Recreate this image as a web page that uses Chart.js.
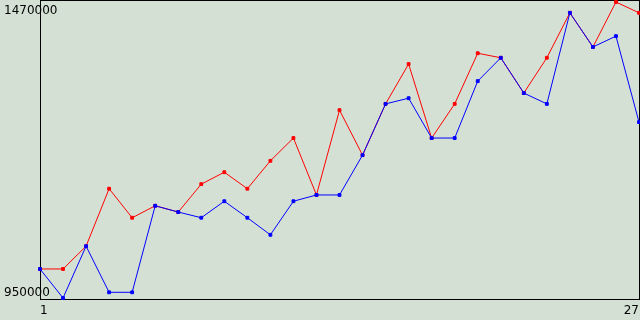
<!DOCTYPE html>
<html>
<head>
<meta charset="utf-8">
<script src="https://cdn.jsdelivr.net/npm/chart.js@4"></script>
<style>
  html, body { margin: 0; padding: 0; background: #d4e0d4; }
  #wrap { width: 640px; height: 320px; }
</style>
</head>
<body>
<div id="wrap"><canvas id="chart" width="640" height="320"></canvas></div>
<script>
const categories = ['1', '2', '3', '4', '5', '6', '7', '8', '9', '10', '11', '12', '13', '14',
  '15', '16', '17', '18', '19', '20', '21', '22', '23', '24', '25', '26', '27']

const blueValues = [1001000, 950000, 1041000, 960000, 960000, 1112000, 1101000, 1091000, 1120000,
  1091000, 1061000, 1120000, 1131000, 1131000, 1201000, 1291000, 1301000, 1231000, 1231000,
  1331000, 1372000, 1310000, 1291000, 1451000, 1391000, 1410000, 1259000]

const redValues = [1001000, 1001000, 1041000, 1142000, 1091000, 1112000, 1101000, 1150000, 1171000,
  1142000, 1191000, 1231000, 1131000, 1280000, 1201000, 1291000, 1361000, 1231000, 1291000,
  1380000, 1372000, 1310000, 1372000, 1451000, 1391000, 1470000, 1451000]

const yTicks = [950000, 1470000]
const xTickLabels = ['1', '27']

// thin black box round the plot area (top and right sides)
const frame = {
  id: 'frame',
  beforeDatasetsDraw(chart) {
    const a = chart.chartArea
    const ctx = chart.ctx
    ctx.save()
    ctx.strokeStyle = '#000'
    ctx.lineWidth = 1
    ctx.strokeRect(a.left + 0.5, a.top + 0.5, a.right - a.left, a.bottom - a.top)
    ctx.restore()
  }
}

const chart = new Chart(document.getElementById('chart').getContext('2d'), {
  type: 'line',
  data: {
    labels: categories,
    datasets: [
      {
        label: 'blue',
        data: blueValues,
        borderColor: '#0000ff',
        backgroundColor: '#0000ff',
        borderWidth: 1,
        pointStyle: 'rect',
        pointRadius: 2,
        pointBorderWidth: 1,
        tension: 0,
        clip: false
      },
      {
        label: 'red',
        data: redValues,
        borderColor: '#ff0000',
        backgroundColor: '#ff0000',
        borderWidth: 1,
        pointStyle: 'rect',
        pointRadius: 2,
        pointBorderWidth: 1,
        tension: 0,
        clip: false
      }
    ]
  },
  options: {
    responsive: false,
    animation: false,
    layout: { autoPadding: false, padding: { left: 0, right: 1, top: 0, bottom: 0 } },
    plugins: {
      legend: { display: false },
      tooltip: { enabled: false }
    },
    scales: {
      x: {
        grid: { display: false, drawTicks: false },
        border: { display: true, color: '#000', width: 1 },
        ticks: {
          autoSkip: false,
          maxRotation: 0,
          align: 'inner',
          padding: 5,
          color: '#000',
          font: { family: 'DejaVu Sans', size: 12 },
          callback: function (value, index) {
            const label = this.getLabelForValue(value)
            return xTickLabels.includes(label) ? label : ''
          }
        },
        afterFit: (scale) => {
          scale.height = 21
          scale.paddingLeft = 0
          scale.paddingRight = 0
        }
      },
      y: {
        min: 948243,
        max: 1473514,
        grid: { display: false, drawTicks: false },
        border: { display: true, color: '#000', width: 1 },
        afterBuildTicks: (scale) => {
          scale.ticks = yTicks.map((v) => ({ value: v }))
        },
        ticks: {
          mirror: true,
          crossAlign: 'near',
          padding: -36,
          labelOffset: 2,
          color: '#000',
          font: { family: 'DejaVu Sans', size: 12, lineHeight: 1.2 },
          // push the top label down and the bottom label up, inside the plot
          callback: (value) => value === yTicks[1] ? ['', String(value)] : [String(value), '']
        },
        afterFit: (scale) => {
          scale.width = 40
          scale.paddingTop = 0
          scale.paddingBottom = 0
        }
      }
    }
  },
  plugins: [frame]
})
</script>
</body>
</html>
